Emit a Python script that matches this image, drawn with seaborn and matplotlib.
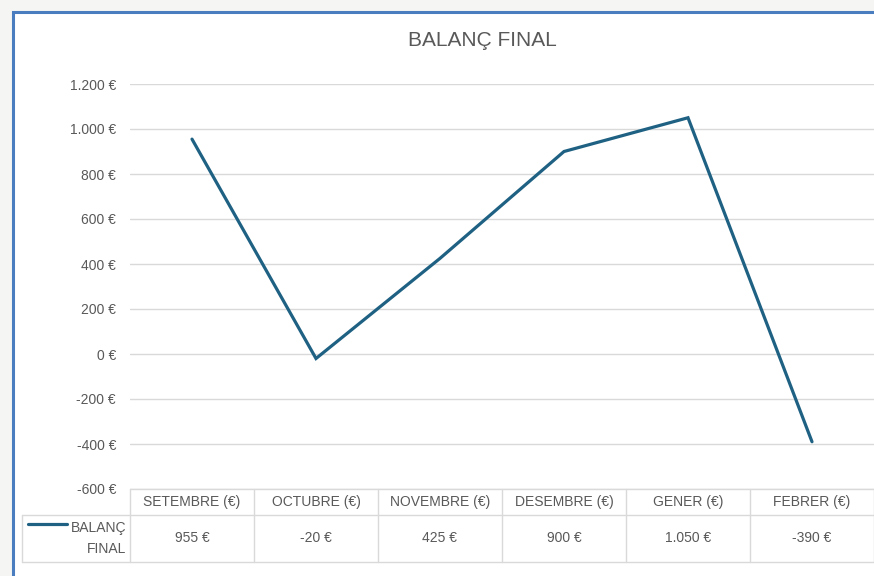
# Line chart of the final balance per month, with an Excel-style data table underneath

import matplotlib
matplotlib.use("Agg")
import matplotlib.pyplot as plt
import matplotlib.transforms as mtransforms
from matplotlib.patches import Rectangle
from matplotlib.lines import Line2D
import pandas as pd
import seaborn as sns

# Data
months = ["SETEMBRE (€)", "OCTUBRE (€)", "NOVEMBRE (€)", "DESEMBRE (€)", "GENER (€)", "FEBRER (€)"]
balance = [955, -20, 425, 900, 1050, -390]
value_labels = ["955 €", "-20 €", "425 €", "900 €", "1.050 €", "-390 €"]
y_ticks = [-600, -400, -200, 0, 200, 400, 600, 800, 1000, 1200]
series_name = "BALANÇ FINAL"

df = pd.DataFrame({"month": months, "balance": balance})

sns.set_theme(style="white")
plt.rcParams['font.family'] = ['Liberation Sans Narrow', 'Liberation Sans', 'DejaVu Sans']

text_grey = "#595959"
grid_grey = "#d9d9d9"
line_color = "#1f6183"

W, H = 874, 576
fig = plt.figure(figsize=(W / 100, H / 100), dpi=100)
fig.patch.set_facecolor("#f5f5f3")

# white chart area with blue frame
frame = Rectangle((13 / W, -0.2), 1.2, 1.2 - 12 / H, transform=fig.transFigure,
                  facecolor="white", edgecolor="#4a7dbf", linewidth=2.2, zorder=-10)
fig.add_artist(frame)

ax_left, ax_right = 130 / W, 874 / W
ax_bottom, ax_top = 1 - 489 / H, 1 - 84 / H
ax = fig.add_axes([ax_left, ax_bottom, ax_right - ax_left, ax_top - ax_bottom])
ax.set_facecolor("none")
ax.set_zorder(1)

sns.lineplot(data=df, x="month", y="balance", ax=ax, color=line_color, linewidth=2.3,
             solid_joinstyle="miter", sort=False)

ax.set_xlim(-0.5, len(months) - 0.5)
ax.set_ylim(y_ticks[0], y_ticks[-1])
ax.set_yticks(y_ticks)
ax.set_yticklabels([f"{v:,}".replace(",", ".") + " €" for v in y_ticks], color=text_grey, fontsize=10)
ax.tick_params(axis="y", length=0, pad=10)
ax.set_xticks([])
ax.set_xlabel("")
ax.set_ylabel("")
for s in ax.spines.values():
    s.set_visible(False)
ax.yaxis.grid(True, color=grid_grey, linewidth=1)
ax.set_axisbelow(True)

# data table below the plot area
tr = mtransforms.blended_transform_factory(ax.transData, ax.transAxes)
plot_h = 489 - 84
row1 = -(515 - 489) / plot_h
row2 = -(562 - 489) / plot_h
left_col = (22 - 130) / (744 / len(months)) - 0.5

tbl_kw = dict(transform=tr, color=grid_grey, linewidth=1, clip_on=False)
ax.add_line(Line2D([-0.5, len(months) - 0.5], [0, 0], **tbl_kw))
ax.add_line(Line2D([left_col, len(months) - 0.5], [row1, row1], **tbl_kw))
ax.add_line(Line2D([left_col, len(months) - 0.5], [row2, row2], **tbl_kw))
ax.add_line(Line2D([left_col, left_col], [row1, row2], **tbl_kw))
for i in range(len(months) + 1):
    ax.add_line(Line2D([i - 0.5, i - 0.5], [0, row2], **tbl_kw))

for i, (m, lab) in enumerate(zip(months, value_labels)):
    ax.text(i, row1 / 2, m, transform=tr, ha="center", va="center", fontsize=10, color=text_grey)
    ax.text(i, (row1 + row2) / 2, lab, transform=tr, ha="center", va="center", fontsize=10, color=text_grey)

# legend key inside table
key_y = row1 - (524 - 515) / plot_h
key_x0 = (28 - 130) / 124 - 0.5
key_x1 = (67 - 130) / 124 - 0.5
ax.add_line(Line2D([key_x0, key_x1], [key_y, key_y], transform=tr, color=line_color,
                   linewidth=2.3, clip_on=False))
ax.text(-0.5 - 4 / 124, (row1 + row2) / 2, "BALANÇ\nFINAL", transform=tr, ha="right", va="center",
        fontsize=10, color=text_grey, linespacing=1.55, multialignment="right")

fig.text(482 / W, 1 - 40 / H, series_name, ha="center", va="center", fontsize=15, color=text_grey)

fig.savefig("out.png", dpi=100, facecolor=fig.get_facecolor())
